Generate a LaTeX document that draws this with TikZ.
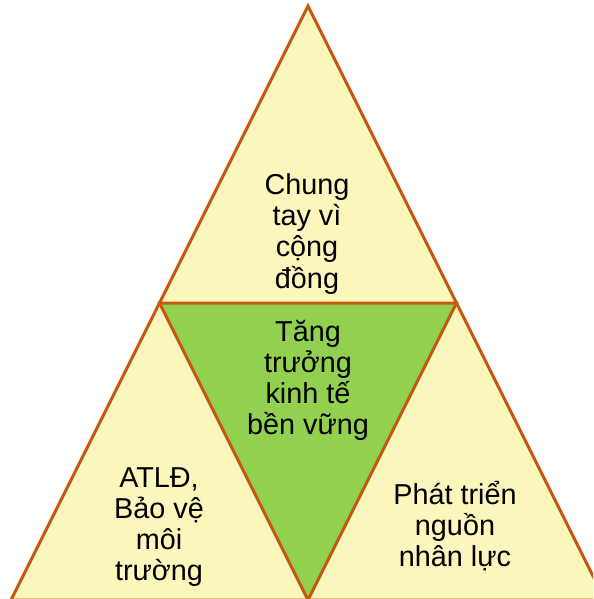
\documentclass[tikz,border=0pt]{standalone}
\usepackage{fontspec}
\setmainfont{Liberation Sans}
\usepackage{tikz}
\usetikzlibrary{calc}

\definecolor{paleyellow}{RGB}{250,246,188}
\definecolor{leafgreen}{RGB}{146,208,80}
\definecolor{rust}{RGB}{197,90,17}

\tikzset{
  part/.style={draw=rust, line width=2.25pt, line join=miter},
  label/.style={align=center, inner sep=0pt, font=\fontsize{21.6pt}{23.3pt}\selectfont}
}

\begin{document}
\begin{tikzpicture}[x=0.75pt, y=-0.75pt]
    \useasboundingbox (0,0) rectangle (593,599);
    \clip (0,0) rectangle (593,599);

    \coordinate (apex) at (308,6);
    \coordinate (baseL) at (11,600);
    \coordinate (baseR) at (605,600);
    \coordinate (midL) at ($(apex)!0.5!(baseL)$);
    \coordinate (midR) at ($(apex)!0.5!(baseR)$);
    \coordinate (midB) at ($(baseL)!0.5!(baseR)$);

    \filldraw [part, fill=paleyellow] (apex) -- (baseL) -- (baseR) -- cycle;
    \filldraw [part, fill=leafgreen] (midL) -- (midR) -- (midB) -- cycle;

    \node[label] (top) at (307,234) {Chung\\tay vì\\cộng\\đồng};
    \node[label] (core) at (308,380) {Tăng\\trưởng\\kinh tế\\bền vững};
    \node[label] (left) at (159,527) {ATLĐ,\\Bảo vệ\\môi\\trường};
    \node[label] (right) at (455,526) {Phát triển\\nguồn\\nhân lực};

\end{tikzpicture}
\end{document}
